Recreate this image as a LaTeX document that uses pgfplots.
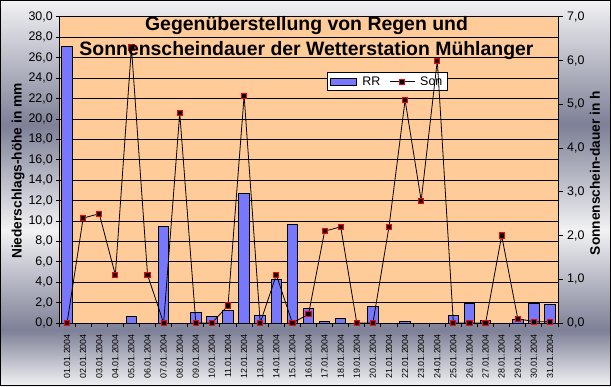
\documentclass[border=0pt]{standalone}
\usepackage{pgfplots}
\pgfplotsset{compat=1.18}
\usepackage{fontspec}
\setmainfont{Liberation Sans}
\definecolor{peach}{RGB}{255,204,153}
\definecolor{lightg}{RGB}{242,242,244}
\definecolor{darkg}{RGB}{125,128,150}
\definecolor{barblue}{RGB}{120,120,255}
\pgfplotsset{
  rrlegend/.style={legend image code/.code={\draw[##1] (0bp,-3.5bp) rectangle (26bp,3.5bp);}},
  sonlegend/.style={legend image code/.code={\draw[mark repeat=2,mark phase=2,##1] plot coordinates {(0bp,0bp) (12.5bp,0bp) (25bp,0bp)};}},
}
\begin{document}
\begin{tikzpicture}[x=1bp,y=1bp]
\useasboundingbox (0,0) rectangle (611,386);
\shade[top color=lightg,bottom color=darkg] (0,261) rectangle (611,386);
\shade[top color=darkg,bottom color=lightg] (0,156) rectangle (611,261);
\shade[top color=lightg,bottom color=darkg] (0,56) rectangle (611,156);
\shade[top color=darkg,bottom color=lightg] (0,0) rectangle (611,56);
\draw[black,line width=1bp] (0.5,0.5) rectangle (610.5,385.5);

\begin{axis}[
  scale only axis, width=499bp, height=306bp,
  at={(59bp,63bp)}, anchor=south west,
  xmin=0.5, xmax=31.5, ymin=0, ymax=30,
  axis background/.style={fill=peach},
  axis line style={black,line width=1bp},
  ytick={0,2,...,30}, ytick pos=left,
  xtick={1,...,31}, xtick pos=bottom,
  minor xtick={0.5,1.5,...,31.5},
  tick align=outside,
  major x tick style={draw=none},
  minor x tick style={black,line width=1bp},
  minor tick length=4bp,
  major tick length=3bp,
  ytick style={black,line width=1bp},
  ymajorgrids, major grid style={black,line width=1bp},
  xticklabels={01.01.2004,02.01.2004,03.01.2004,04.01.2004,05.01.2004,06.01.2004,07.01.2004,08.01.2004,09.01.2004,10.01.2004,11.01.2004,12.01.2004,13.01.2004,14.01.2004,15.01.2004,16.01.2004,17.01.2004,18.01.2004,19.01.2004,20.01.2004,21.01.2004,22.01.2004,23.01.2004,24.01.2004,25.01.2004,26.01.2004,27.01.2004,28.01.2004,29.01.2004,30.01.2004,31.01.2004},
  xticklabel style={yshift=-8bp, rotate=90, anchor=east, font=\fontsize{8.9}{10}\selectfont, inner sep=0pt},
  yticklabel style={font=\fontsize{12.5}{14}\selectfont, inner sep=0pt, xshift=-3bp},
  /pgf/number format/assume math mode=true,
  yticklabel={\pgfmathprintnumber[fixed,fixed zerofill,precision=1,use comma]{\tick}},
  legend style={at={(0.537,0.82)}, anchor=north west, legend columns=2, draw=black, fill=white,
    line width=1bp, font=\fontsize{12.5}{14}\selectfont, inner xsep=3bp, inner ysep=2bp,
    /tikz/every odd column/.append style={column sep=3bp},
    /tikz/every even column/.append style={column sep=7bp}},
  clip=false,
]
\addplot[ybar, bar width=10.5bp, fill=barblue, draw=black, line width=1bp, rrlegend]
 coordinates {
 (1,27.1) (2,0) (3,0) (4,0) (5,0.6) (6,0) (7,9.5) (8,0) (9,1.0) (10,0.6)
 (11,1.2) (12,12.7) (13,0.7) (14,4.3) (15,9.7) (16,1.4) (17,0.1) (18,0.4) (19,0) (20,1.6)
 (21,0) (22,0.1) (23,0) (24,0) (25,0.7) (26,1.9) (27,0.2) (28,0) (29,0.3) (30,1.9) (31,1.8)
 };
\addlegendentry{RR}
\addlegendimage{black, line width=0.8bp, mark=square*, mark size=2.6bp,
  mark options={fill=black, draw=red, line width=1bp}, sonlegend}
\addlegendentry{Son}
\end{axis}

\begin{axis}[
  scale only axis, width=499bp, height=306bp,
  at={(59bp,63bp)}, anchor=south west,
  xmin=0.5, xmax=31.5, ymin=0, ymax=7,
  axis x line=none, axis y line*=right,
  axis line style={black,line width=1bp},
  ytick={0,1,...,7},
  tick align=outside, major tick length=5bp,
  ytick style={black,line width=1bp},
  yticklabel style={font=\fontsize{12.5}{14}\selectfont, inner sep=0pt, xshift=4bp},
  /pgf/number format/assume math mode=true,
  yticklabel={\pgfmathprintnumber[fixed,fixed zerofill,precision=1,use comma]{\tick}},
  clip=false,
]
\addplot[black, line width=0.8bp, mark=square*, mark size=2.6bp,
  mark options={fill=black, draw=red, line width=1bp}]
 coordinates {
 (1,0) (2,2.4) (3,2.5) (4,1.1) (5,6.3) (6,1.1) (7,0) (8,4.8) (9,0) (10,0)
 (11,0.4) (12,5.2) (13,0) (14,1.1) (15,0) (16,0.2) (17,2.1) (18,2.2) (19,0) (20,0)
 (21,2.2) (22,5.1) (23,2.8) (24,6.0) (25,0) (26,0) (27,0) (28,2.0) (29,0.1) (30,0.03) (31,0.03)
 };
\end{axis}

\node[rotate=90, font=\fontsize{13.8}{16}\selectfont\bfseries] at (18,215) {Niederschlags-höhe in mm};
\node[rotate=90, font=\fontsize{13.8}{16}\selectfont\bfseries] at (595,213) {Sonnenschein-dauer in h};
\node[anchor=base, font=\fontsize{19.5}{22}\selectfont\bfseries] at (306.5,356) {Gegenüberstellung von Regen und};
\node[anchor=base, font=\fontsize{19.5}{22}\selectfont\bfseries] at (306.5,331) {Sonnenscheindauer der Wetterstation Mühlanger};
\end{tikzpicture}
\end{document}
